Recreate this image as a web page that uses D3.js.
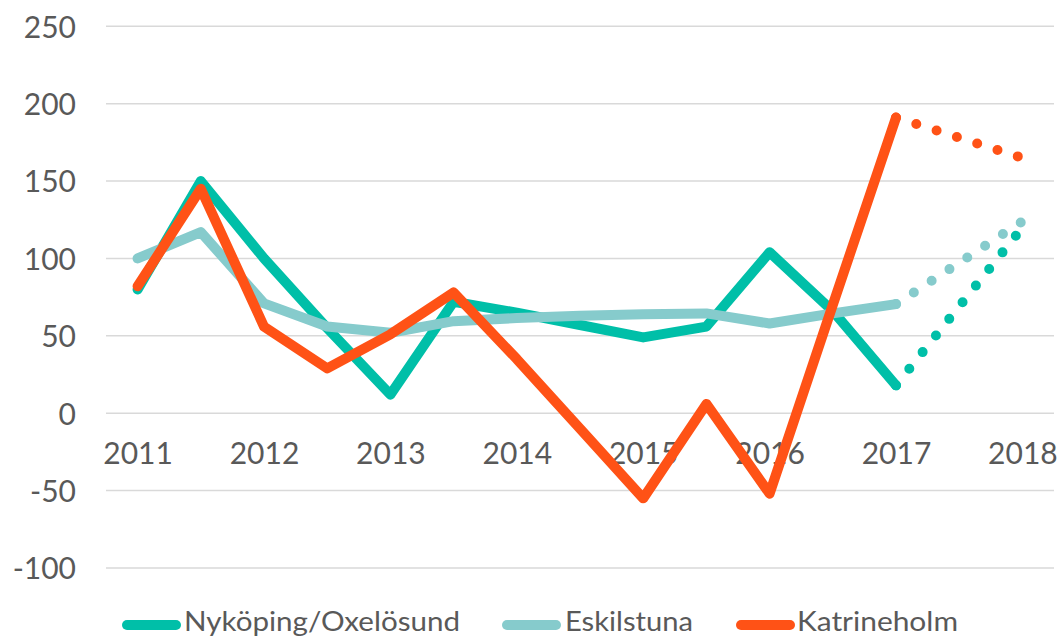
<!DOCTYPE html>
<html>
<head>
<meta charset="utf-8">
<script src="https://cdn.jsdelivr.net/npm/d3@7/dist/d3.min.js"></script>
<style>
  html, body { margin: 0; padding: 0; background: #ffffff; }
  svg { display: block; }
  text { font-family: Lato, "Open Sans", sans-serif; fill: #595959; }
</style>
</head>
<body>
<svg id="chart" width="1060" height="637"></svg>
<script>
// ---- Data ----
const categories = ["2011","2011.5","2012","2012.5","2013","2013.5","2014","2014.5","2015","2015.5","2016","2016.5","2017","2017.5","2018"];
const tickLabels = ["2011","2012","2013","2014","2015","2016","2017","2018"];
const yTicks = [-100, -50, 0, 50, 100, 150, 200, 250];

const seriesNames = ["Nyköping/Oxelösund", "Eskilstuna", "Katrineholm"];
const seriesColors = ["#00BFA8", "#86CBCC", "#FF5216"];

// Actual values 2011–2017 (half-year steps)
const nykoping    = [80, 150, 100, 55, 12, 72, 65, 57, 49, 56, 104, 66, 18];
const eskilstuna  = [100, 117, 71, 56, 52, 59.5, 61.5, 63, 64, 64.5, 58, 64.5, 70.5];
const katrineholm = [82, 145, 56, 29, 51, 78, 35, -10, -55, 6, -52, 70, 191];

// Forecast (dotted) 2017 -> 2018
const forecastCats = ["2017", "2018"];
const nykopingF    = [18, 120];
const eskilstunaF  = [70.5, 124];
const katrineholmF = [191, 165];

// ---- Layout ----
const svg = d3.select("#chart");
const plotLeft = 106, plotRight = 1054;

const x = d3.scalePoint().domain(categories).range([plotLeft, plotRight]).padding(0.5);
const y = d3.scaleLinear().domain([-100, 250]).range([568, 26.3]);

// gridlines
svg.append("g").selectAll("line").data(yTicks).join("line")
  .attr("x1", plotLeft).attr("x2", plotRight)
  .attr("y1", d => y(d)).attr("y2", d => y(d))
  .attr("stroke", "#D9D9D9").attr("stroke-width", 1.5);

// y axis labels (hyphen-minus as in the original)
const yAxis = d3.axisLeft(y).tickValues(yTicks).tickSize(0).tickPadding(0).tickFormat(d => String(d));
const yg = svg.append("g").attr("transform", "translate(76,0)").call(yAxis);
yg.select(".domain").remove();
yg.selectAll("text").style("font-size", "30px").attr("fill", "#595959").attr("dy", "0.36em");

// x axis labels (placed at the zero line)
const xAxis = d3.axisBottom(x).tickValues(tickLabels).tickSize(0).tickPadding(0);
const xg = svg.append("g").attr("transform", `translate(0,${y(0)})`).call(xAxis);
xg.select(".domain").remove();
xg.selectAll("text").style("font-size", "30px").attr("fill", "#595959").attr("dy", null).attr("y", 51);

// lines
const line = d3.line().x(d => x(d[0])).y(d => y(d[1]));
const actual = [nykoping, eskilstuna, katrineholm];
const forecast = [nykopingF, eskilstunaF, katrineholmF];

actual.forEach((vals, i) => {
  // dotted forecast
  svg.append("path")
    .datum(forecastCats.map((c, j) => [c, forecast[i][j]]))
    .attr("d", line)
    .attr("fill", "none")
    .attr("stroke", seriesColors[i])
    .attr("stroke-width", 10)
    .attr("stroke-linecap", "round")
    .attr("stroke-dasharray", "0 21.3");
  // solid actual
  svg.append("path")
    .datum(vals.map((v, j) => [categories[j], v]))
    .attr("d", line)
    .attr("fill", "none")
    .attr("stroke", seriesColors[i])
    .attr("stroke-width", 10)
    .attr("stroke-linejoin", "round")
    .attr("stroke-linecap", "round");
});

// legend
const legendItems = [
  {sx1: 122, sx2: 181, tx: 184, tw: 276},
  {sx1: 502, sx2: 561, tx: 565, tw: 128},
  {sx1: 736, sx2: 795, tx: 797, tw: 161}
];
const lg = svg.append("g");
seriesNames.forEach((name, i) => {
  const it = legendItems[i];
  lg.append("line")
    .attr("x1", it.sx1 + 5).attr("x2", it.sx2 - 5)
    .attr("y1", 625).attr("y2", 625)
    .attr("stroke", seriesColors[i]).attr("stroke-width", 10)
    .attr("stroke-linecap", "round");
  lg.append("text")
    .attr("x", it.tx).attr("y", 631)
    .style("font-size", "26px")
    .attr("textLength", it.tw)
    .attr("lengthAdjust", "spacingAndGlyphs")
    .text(name);
});
</script>
</body>
</html>
